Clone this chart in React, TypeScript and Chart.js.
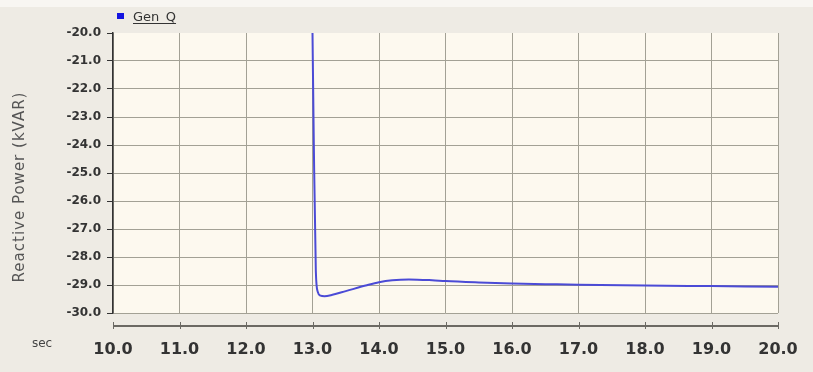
import React, { useEffect, useRef } from "react";
import { Chart, registerables } from "chart.js";

Chart.register(...registerables);

// Generator reactive power trace after the 13 s event
const timeSec = [
  13.0, 13.02, 13.05, 13.08, 13.12, 13.18, 13.3, 13.5, 13.8, 14.0, 14.2, 14.45,
  14.8, 15.0, 15.5, 16.0, 16.5, 17.0, 18.0, 19.0, 20.0,
];
const genQ = [
  -20.0, -24.0, -28.5, -29.25, -29.38, -29.4, -29.35, -29.22, -29.02, -28.9,
  -28.83, -28.8, -28.83, -28.86, -28.91, -28.95, -28.97, -28.99, -29.02, -29.04,
  -29.06,
];
const seriesName = "Gen_Q";
const yTitle = "Reactive Power (kVAR)";
const xUnit = "sec";
const xRange = [10, 20];
const yRange = [-30, -20];

const FONT = "'DejaVu Sans', Verdana, sans-serif";

const frame = {
  id: "frame",
  beforeDraw(chart: any) {
    const { ctx, width, height, chartArea } = chart;
    ctx.save();
    ctx.fillStyle = "#eeebe4";
    ctx.fillRect(0, 0, width, height);
    ctx.fillStyle = "#f8f6f2";
    ctx.fillRect(0, 0, width, 7);
    ctx.fillStyle = "#fdf9ef";
    ctx.fillRect(
      chartArea.left,
      chartArea.top,
      chartArea.right - chartArea.left,
      chartArea.bottom - chartArea.top
    );
    ctx.restore();
  },
  afterDraw(chart: any) {
    const { ctx, chartArea } = chart;
    const xs = chart.scales.x;
    const axisY = chartArea.bottom + 13;
    ctx.save();
    // detached time axis line with its tick marks
    ctx.strokeStyle = "#6b6963";
    ctx.lineWidth = 2;
    ctx.beginPath();
    ctx.moveTo(chartArea.left, axisY);
    ctx.lineTo(chartArea.right, axisY);
    ctx.stroke();
    ctx.lineWidth = 1;
    xs.ticks.forEach((t: any) => {
      const px = Math.round(xs.getPixelForValue(t.value)) + 0.5;
      ctx.beginPath();
      ctx.moveTo(px, axisY - 4);
      ctx.lineTo(px, axisY + 3);
      ctx.stroke();
    });
    // unit label
    ctx.fillStyle = "#444";
    ctx.font = `12px ${FONT}`;
    ctx.textAlign = "center";
    ctx.textBaseline = "middle";
    ctx.fillText(xUnit, 42, 344);
    // vertical axis title
    ctx.save();
    ctx.translate(20, 187);
    ctx.rotate(-Math.PI / 2);
    ctx.fillStyle = "#555";
    ctx.font = `15px ${FONT}`;
    (ctx as any).letterSpacing = "1px";
    ctx.fillText(yTitle, 0, 0);
    ctx.restore();
    // series key
    ctx.fillStyle = "#1414e0";
    ctx.fillRect(117, 13, 7, 6);
    ctx.fillStyle = "#333";
    ctx.font = `13px ${FONT}`;
    ctx.textAlign = "left";
    ctx.textBaseline = "alphabetic";
    ctx.fillText(seriesName, 133, 21);
    const w = ctx.measureText(seriesName).width;
    ctx.strokeStyle = "#333";
    ctx.beginPath();
    ctx.moveTo(133, 23.5);
    ctx.lineTo(133 + w, 23.5);
    ctx.stroke();
    ctx.restore();
  },
};

export default function App() {
  const ref = useRef<HTMLCanvasElement>(null);

  useEffect(() => {
    if (!ref.current) return;
    const chart = new Chart(ref.current, {
      type: "line",
      data: {
        datasets: [
          {
            label: seriesName,
            data: timeSec.map((t, i) => ({ x: t, y: genQ[i] })),
            borderColor: "#4b4bd6",
            borderWidth: 2,
            pointRadius: 0,
            cubicInterpolationMode: "monotone",
            fill: false,
          },
        ],
      },
      options: {
        responsive: false,
        animation: false,
        layout: { padding: { top: 33, right: 35, left: 0, bottom: 0 } },
        plugins: { legend: { display: false }, tooltip: { enabled: false } },
        scales: {
          x: {
            type: "linear",
            min: xRange[0],
            max: xRange[1],
            afterFit: (s: any) => {
              s.height = 59;
              s.paddingLeft = 0;
              s.paddingRight = 0;
            },
            border: { display: false },
            grid: { color: "#a3a195", drawTicks: false, lineWidth: 1 },
            ticks: {
              stepSize: 1,
              padding: 27,
              color: "#333",
              font: { family: FONT, size: 16, weight: "bold" },
              callback: (v: any) => Number(v).toFixed(1),
              maxRotation: 0,
            },
          },
          y: {
            min: yRange[0],
            max: yRange[1],
            afterFit: (s: any) => {
              s.width = 113;
              s.paddingTop = 0;
              s.paddingBottom = 0;
            },
            border: { display: true, color: "#333", width: 1.5 },
            grid: {
              color: (c: any) =>
                c.tick && c.tick.value === yRange[1] ? "rgba(0,0,0,0)" : "#a3a195",
              tickColor: "#333",
              tickLength: 6,
              lineWidth: 1,
            },
            ticks: {
              stepSize: 1,
              padding: 6,
              color: "#333",
              font: { family: FONT, size: 12, weight: "bold" },
              callback: (v: any) => Number(v).toFixed(1),
            },
          },
        },
      },
      plugins: [frame],
    });
    return () => chart.destroy();
  }, []);

  return (
    <div style={{ position: "absolute", left: 0, top: 0, width: 813, height: 372 }}>
      <canvas ref={ref} width={813} height={372} style={{ display: "block" }} />
    </div>
  );
}
